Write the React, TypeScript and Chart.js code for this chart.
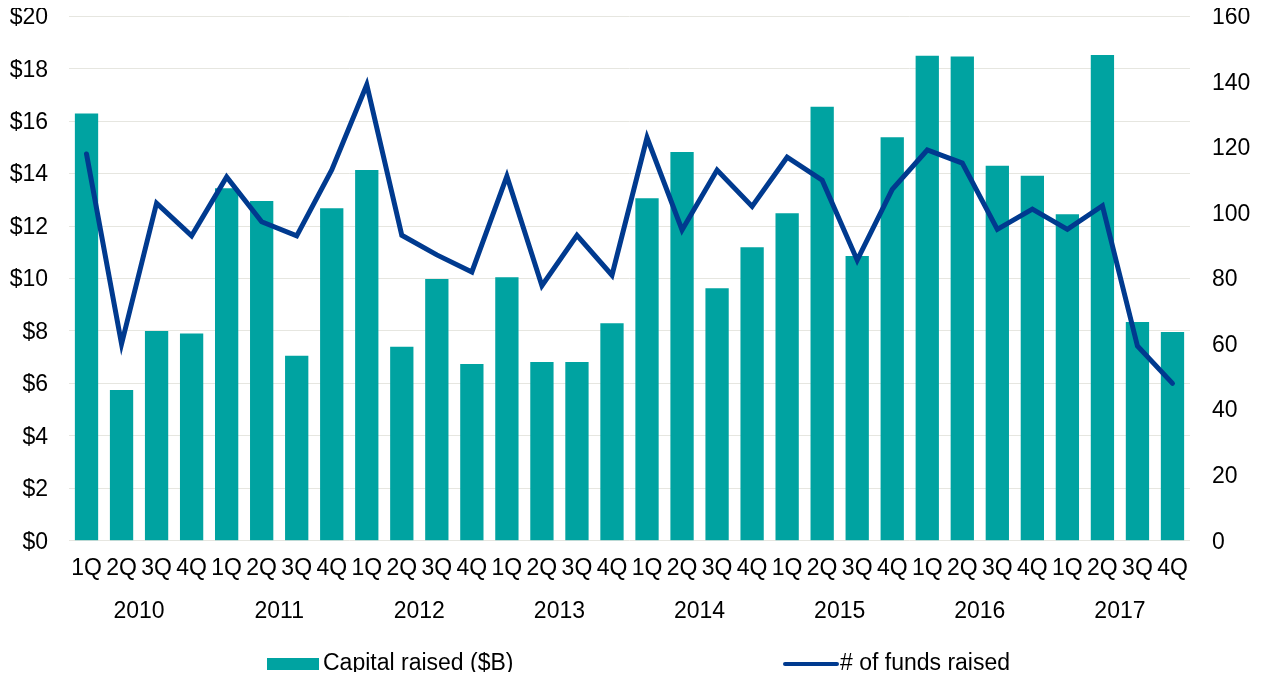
import React, { useEffect, useRef } from "react";
import { Chart, registerables } from "chart.js";

Chart.register(...registerables);

const quarters = [
  "1Q","2Q","3Q","4Q","1Q","2Q","3Q","4Q","1Q","2Q","3Q","4Q","1Q","2Q","3Q","4Q",
  "1Q","2Q","3Q","4Q","1Q","2Q","3Q","4Q","1Q","2Q","3Q","4Q","1Q","2Q","3Q","4Q",
];
const years = ["2010", "2011", "2012", "2013", "2014", "2015", "2016", "2017"];

const capitalRaised = [
  16.29, 5.75, 8.0, 7.9, 13.44, 12.96, 7.05, 12.68,
  14.14, 7.4, 9.98, 6.74, 10.05, 6.82, 6.82, 8.29,
  13.06, 14.82, 9.63, 11.19, 12.49, 16.55, 10.86, 15.39,
  18.5, 18.47, 14.3, 13.92, 12.45, 18.52, 8.34, 7.96,
];
const fundsRaised = [
  118.0, 60, 103.0, 93.0, 111.0, 97.3, 93.0, 113.1,
  139.1, 93.2, 87.2, 82.0, 111.2, 77.8, 93.2, 81.0,
  123.0, 94.8, 113.1, 102.0, 117.0, 110.0, 85.6, 107.2,
  119.2, 115.2, 95.0, 101.2, 95.0, 102.2, 59.4, 48,
];

const TEAL = "#00A3A1";
const NAVY = "#003A8F";
const FONT_FAMILY = "'Liberation Sans', Arial, sans-serif";
const FONT_SIZE = 23;
const TEXT = "#000000";

const legendPlugin = {
  id: "customLegend",
  afterDraw(chart: any) {
    const ctx = chart.ctx;
    const y = chart.height - 8;
    ctx.save();
    ctx.font = `${FONT_SIZE}px ${FONT_FAMILY}`;
    ctx.textBaseline = "middle";
    ctx.textAlign = "left";
    ctx.fillStyle = TEAL;
    ctx.fillRect(259, y - 6, 52, 12);
    ctx.fillStyle = TEXT;
    ctx.fillText("Capital raised ($B)", 315, y);
    ctx.strokeStyle = NAVY;
    ctx.lineWidth = 4;
    ctx.lineCap = "round";
    ctx.beginPath();
    ctx.moveTo(777, y);
    ctx.lineTo(829, y);
    ctx.stroke();
    ctx.fillStyle = TEXT;
    ctx.fillText("# of funds raised", 832, y);
    ctx.restore();
  },
};

export default function App() {
  const canvasRef = useRef<HTMLCanvasElement | null>(null);

  useEffect(() => {
    if (!canvasRef.current) return;
    const font = { family: FONT_FAMILY, size: FONT_SIZE };
    const yFont = { family: FONT_FAMILY, size: FONT_SIZE, lineHeight: 0.7 };
    const chart = new Chart(canvasRef.current, {
      type: "bar",
      data: {
        labels: quarters,
        datasets: [
          {
            type: "line",
            label: "# of funds raised",
            data: fundsRaised,
            yAxisID: "y1",
            xAxisID: "x",
            borderColor: NAVY,
            backgroundColor: NAVY,
            borderWidth: 5,
            pointRadius: 0,
            tension: 0,
            borderCapStyle: "round",
            borderJoinStyle: "miter",
            order: 0,
          } as any,
          {
            type: "bar",
            label: "Capital raised ($B)",
            data: capitalRaised,
            yAxisID: "y",
            xAxisID: "x",
            backgroundColor: TEAL,
            borderWidth: 0,
            categoryPercentage: 1,
            barPercentage: 0.665,
            order: 1,
          } as any,
        ],
      },
      options: {
        responsive: true,
        maintainAspectRatio: false,
        animation: false,
        layout: { padding: { top: 8.3, bottom: 41.3, left: 0, right: 0 } },
        plugins: {
          legend: { display: false },
          tooltip: { enabled: false },
        },
        scales: {
          x: {
            type: "category",
            position: "bottom",
            weight: 1,
            offset: true,
            grid: { display: false, drawTicks: false },
            border: { display: false },
            ticks: {
              font,
              color: TEXT,
              padding: 14,
              autoSkip: false,
              maxRotation: 0,
              minRotation: 0,
            },
            afterFit: (s: any) => {
              s.height = 45;
            },
          },
          x2: {
            type: "category",
            labels: years,
            position: "bottom",
            weight: 2,
            offset: true,
            grid: { display: false, drawTicks: false },
            border: { display: false },
            ticks: {
              font,
              color: TEXT,
              padding: 12,
              autoSkip: false,
              maxRotation: 0,
              minRotation: 0,
            },
            afterFit: (s: any) => {
              s.height = 45;
            },
          },
          y: {
            position: "left",
            min: 0,
            max: 20,
            ticks: {
              stepSize: 2,
              font: yFont,
              color: TEXT,
              padding: 0,
              labelOffset: 1.5,
              callback: (v: any) => "$" + v,
            },
            grid: {
              color: "#E6E6E0",
              lineWidth: 1,
              drawTicks: true,
              tickLength: 21,
              tickColor: "rgba(0,0,0,0)",
            },
            border: { display: false },
            afterFit: (s: any) => {
              s.width = 61;
            },
          },
          y1: {
            position: "right",
            min: 0,
            max: 160,
            ticks: { stepSize: 20, font: yFont, color: TEXT, padding: 0, labelOffset: 1.5 },
            grid: {
              display: true,
              drawOnChartArea: false,
              color: "rgba(0,0,0,0)",
              drawTicks: true,
              tickLength: 22,
              tickColor: "rgba(0,0,0,0)",
            },
            border: { display: false },
            afterFit: (s: any) => {
              s.width = 70;
            },
          },
        },
      } as any,
      plugins: [legendPlugin],
    });
    return () => chart.destroy();
  }, []);

  return (
    <div style={{ position: "relative", width: "1252px", height: "664px" }}>
      <canvas ref={canvasRef} />
    </div>
  );
}
